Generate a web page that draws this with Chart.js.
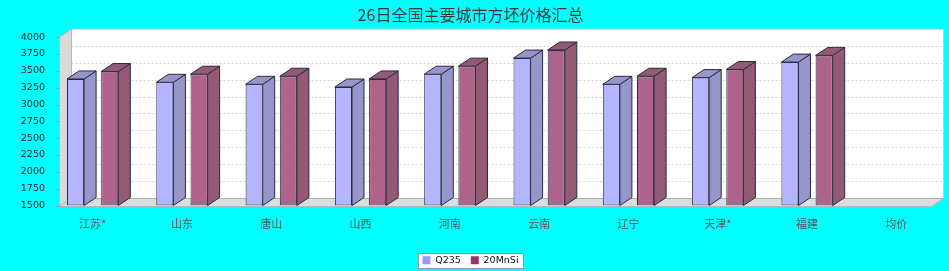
<!DOCTYPE html>
<html>
<head>
<meta charset="utf-8">
<script src="https://cdn.jsdelivr.net/npm/chart.js@4"></script>
<style>
  body { margin: 0; background: #00FFFF; }
  #wrap { width: 949px; height: 271px; }
</style>
</head>
<body>
<div id="wrap"><canvas id="chart"></canvas></div>
<script>
// data
const categories = ['江苏*', '山东', '唐山', '山西', '河南', '云南', '辽宁', '天津*', '福建', '均价'];
const seriesNames = ['Q235', '20MnSi'];
const q235 = [3380, 3330, 3300, 3260, 3450, 3690, 3300, 3400, 3630, null];
const mnsi = [3490, 3450, 3420, 3380, 3570, 3810, 3420, 3520, 3730, null];
const yMin = 1500, yMax = 4000, yStep = 250;

// 3d look
const DX = 12, DY = 8;
const faces = [
  { front: '#B4B4FF', side: '#9696CA', legend: '#9999FF' },
  { front: '#B0638A', side: '#925A75', legend: '#993366' }
];
const OUTLINE = '#2A2A40';
const CJK = '"Noto Sans CJK SC", "DejaVu Sans", sans-serif';

function poly(ctx, pts, fill, stroke) {
  ctx.beginPath();
  ctx.moveTo(pts[0][0], pts[0][1]);
  for (let i = 1; i < pts.length; i++) ctx.lineTo(pts[i][0], pts[i][1]);
  ctx.closePath();
  if (fill) { ctx.fillStyle = fill; ctx.fill(); }
  if (stroke) { ctx.strokeStyle = stroke; ctx.lineWidth = 1; ctx.stroke(); }
}

const box3d = {
  id: 'box3d',
  beforeDraw(chart) {
    // frame round the legend
    const hb = chart.legend && chart.legend.legendHitBoxes;
    if (!hb || !hb.length) return;
    const first = hb[0], last = hb[hb.length - 1];
    const ctx = chart.ctx;
    const x0 = Math.round(first.left - 4) + 0.5;
    const x1 = Math.round(last.left + last.width + 4) + 0.5;
    const y0 = Math.round(first.top - 3) + 0.5;
    const y1 = Math.round(first.top + first.height + 3) + 0.5;
    ctx.save();
    ctx.fillStyle = '#FFFFFF';
    ctx.fillRect(x0, y0, x1 - x0, y1 - y0);
    ctx.strokeStyle = '#9A9A9A';
    ctx.lineWidth = 1;
    ctx.strokeRect(x0, y0, x1 - x0, y1 - y0);
    ctx.restore();
  },
  beforeDatasetsDraw(chart) {
    const ctx = chart.ctx, a = chart.chartArea, ys = chart.scales.y;
    const L = Math.round(a.left + 11) + 0.5, R = Math.round(a.right - 10) + 0.5;
    const T = a.top, B = Math.round(a.bottom) + 0.5;
    ctx.save();
    // back wall
    poly(ctx, [[L + DX, T - DY], [R + DX, T - DY], [R + DX, B - DY], [L + DX, B - DY]], '#FFFFFF', '#CCCCCC');
    // grid lines on the back wall
    ctx.setLineDash([2, 2]);
    ctx.strokeStyle = '#D4D4D4';
    ctx.lineWidth = 1;
    for (let v = yMin + yStep; v <= yMax; v += yStep) {
      const py = Math.round(ys.getPixelForValue(v) - DY) + 0.5;
      ctx.beginPath();
      ctx.moveTo(L + DX, py);
      ctx.lineTo(R + DX, py);
      ctx.stroke();
    }
    ctx.setLineDash([]);
    // left wall and floor
    poly(ctx, [[L, T], [L + DX, T - DY], [L + DX, B - DY], [L, B]], '#D9D9D9', '#B8B8B8');
    poly(ctx, [[L, B], [L + DX, B - DY], [R + DX, B - DY], [R, B]], '#DCDCDC', '#B8B8B8');
    ctx.strokeStyle = '#C4A8A8';
    ctx.beginPath();
    ctx.moveTo(L + DX, B - DY);
    ctx.lineTo(R + DX, B - DY);
    ctx.stroke();
    // axis tick marks
    ctx.strokeStyle = '#999999';
    for (let v = yMin; v <= yMax; v += yStep) {
      const py = Math.round(ys.getPixelForValue(v)) + 0.5;
      ctx.beginPath();
      ctx.moveTo(L - 3, py);
      ctx.lineTo(L, py);
      ctx.stroke();
    }
    ctx.restore();
  },
  afterDatasetsDraw(chart) {
    const ctx = chart.ctx;
    ctx.save();
    chart.data.datasets.forEach((ds, di) => {
      const meta = chart.getDatasetMeta(di);
      meta.data.forEach((bar, i) => {
        if (ds.data[i] == null) return;
        const p = bar.getProps(['x', 'y', 'base', 'width'], true);
        const l = p.x - p.width / 2, r = p.x + p.width / 2;
        poly(ctx, [[r, p.y], [r + DX, p.y - DY], [r + DX, p.base - DY], [r, p.base]], faces[di].side, OUTLINE);
        poly(ctx, [[l, p.y], [l + DX, p.y - DY], [r + DX, p.y - DY], [r, p.y]], faces[di].side, OUTLINE);
      });
    });
    ctx.restore();
  }
};

const ctx = document.getElementById('chart').getContext('2d');
new Chart(ctx, {
  type: 'bar',
  data: {
    labels: categories,
    datasets: [
      { label: seriesNames[0], data: q235, backgroundColor: faces[0].front },
      { label: seriesNames[1], data: mnsi, backgroundColor: faces[1].front }
    ]
  },
  options: {
    responsive: true,
    maintainAspectRatio: false,
    animation: false,
    devicePixelRatio: 1,
    layout: { padding: { left: 0, right: 8, top: 0, bottom: -4 } },
    datasets: {
      bar: {
        base: yMin,
        borderColor: OUTLINE,
        borderWidth: 1,
        borderSkipped: false,
        categoryPercentage: 0.766,
        barPercentage: 0.5
      }
    },
    scales: {
      x: {
        grid: { display: false },
        border: { display: false },
        ticks: { color: '#555555', font: { family: CJK, size: 11 }, padding: 4, autoSkip: false, maxRotation: 0 },
        afterFit(s) { s.height = 40; }
      },
      y: {
        min: yMin,
        max: yMax,
        grid: { display: false },
        border: { display: false },
        ticks: {
          stepSize: yStep,
          color: '#222222',
          font: { family: '"DejaVu Sans"', size: 9.5 },
          padding: -5,
          callback: (v) => String(v)
        },
        afterFit(s) { s.width = 48; }
      }
    },
    plugins: {
      title: {
        display: true,
        text: '26日全国主要城市方坯价格汇总',
        color: '#3A3A3A',
        font: { family: CJK, size: 16, weight: 'normal' },
        padding: { top: 5, bottom: 13 }
      },
      legend: {
        position: 'bottom',
        labels: {
          color: '#111111',
          font: { family: '"DejaVu Sans"', size: 9.5 },
          boxWidth: 8,
          boxHeight: 8,
          padding: 10,
          generateLabels(chart) {
            return Chart.defaults.plugins.legend.labels.generateLabels(chart).map((it, i) => ({
              ...it, fillStyle: faces[i].legend, strokeStyle: faces[i].legend, lineWidth: 0
            }));
          }
        }
      },
      tooltip: { enabled: false }
    }
  },
  plugins: [box3d]
});
</script>
</body>
</html>
